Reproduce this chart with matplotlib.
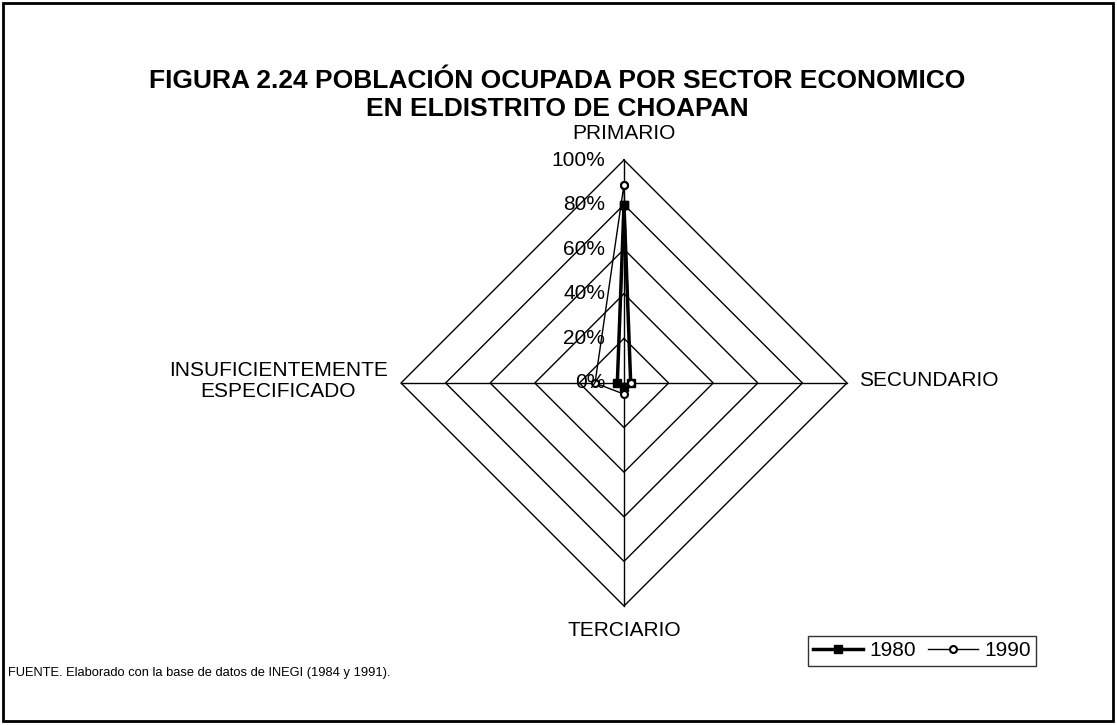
"""Radar chart: poblacion ocupada por sector economico, distrito de Choapan."""

import numpy as np
import matplotlib
matplotlib.use("Agg")
from matplotlib import pyplot as plt


# =============================================================================
# Data
# =============================================================================
sectores = ['PRIMARIO', 'SECUNDARIO', 'TERCIARIO',
    'INSUFICIENTEMENTE\nESPECIFICADO']
valores_1980 = [80, 3, 2, 3]
valores_1990 = [89, 3, 5, 13]
niveles = [0, 20, 40, 60, 80, 100]
etiquetas_niveles = ['0%', '20%', '40%', '60%', '80%', '100%']


# =============================================================================
# Plot parameters
# =============================================================================
matplotlib.rcParams['font.family'] = ['Liberation Sans', 'DejaVu Sans']
fontsize = 15

fig = plt.figure(figsize=(11.17, 7.25), dpi=100)

# Frame around the whole figure
fig.patches.append(plt.Rectangle((0.003, 0.006), 0.993, 0.99,
    transform=fig.transFigure, fill=False, edgecolor='k', linewidth=2))

# Axes placed so that the radar centre sits at (624, 383) px, radius 223 px
half = 250
ax = fig.add_axes([(624 - half) / 1117, (725 - 383 - half) / 725,
    2 * half / 1117, 2 * half / 725])
lim = half / 223
ax.set_xlim(-lim, lim)
ax.set_ylim(-lim, lim)
ax.axis('off')

# Angles: PRIMARIO on top, then clockwise
angles = np.pi / 2 - np.arange(len(sectores)) * 2 * np.pi / len(sectores)


def to_xy(values):
    r = np.asarray(values, dtype=float) / 100
    r = np.append(r, r[0])
    a = np.append(angles, angles[0])
    return r * np.cos(a), r * np.sin(a)


# Grid rings (diamonds)
for nivel in niveles[1:]:
    gx, gy = to_xy([nivel] * len(sectores))
    ax.plot(gx, gy, color='k', linewidth=1)

# Spokes
for a in angles:
    ax.plot([0, np.cos(a)], [0, np.sin(a)], color='k', linewidth=1)

# Level labels along the top spoke
for nivel, etiqueta in zip(niveles, etiquetas_niveles):
    ax.text(-0.085, nivel / 100, etiqueta, ha='right', va='center',
        fontsize=fontsize, clip_on=False)

# Category labels
ax.text(0, 1.12, sectores[0], ha='center', va='center', fontsize=fontsize,
    clip_on=False)
ax.text(1.055, 0.01, sectores[1], ha='left', va='center', fontsize=fontsize,
    clip_on=False)
ax.text(0, -1.11, sectores[2], ha='center', va='center', fontsize=fontsize,
    clip_on=False)
ax.text(-1.06, 0.01, sectores[3], ha='right', va='center', fontsize=fontsize,
    clip_on=False, multialignment='center', linespacing=1.15)

# Series
x80, y80 = to_xy(valores_1980)
ax.plot(x80, y80, color='k', linewidth=2.5, marker='s', markersize=6,
    label='1980', clip_on=False)
x90, y90 = to_xy(valores_1990)
ax.plot(x90, y90, color='k', linewidth=1, marker='o', markersize=5,
    markerfacecolor='white', markeredgewidth=1.5, label='1990',
    clip_on=False)

# Legend
leg = fig.legend(loc='center', bbox_to_anchor=(922 / 1117, 1 - 651 / 725),
    ncol=2, frameon=True, fancybox=False, edgecolor='k', fontsize=fontsize,
    handlelength=2.4, handletextpad=0.3, columnspacing=0.6,
    borderpad=0.25)
leg.get_frame().set_linewidth(1)

# Title
fig.text(557 / 1117, 1 - 95 / 725,
    'FIGURA 2.24 POBLACIÓN OCUPADA POR SECTOR ECONOMICO\n'
    'EN ELDISTRITO DE CHOAPAN', ha='center', va='center', fontsize=19,
    fontweight='bold', linespacing=1.25)

# Source
fig.text(8 / 1117, 1 - 673 / 725,
    'FUENTE. Elaborado con la base de datos de INEGI (1984 y 1991).',
    ha='left', va='center', fontsize=9.3)

fig.savefig('out.png', dpi=100)
plt.close()
